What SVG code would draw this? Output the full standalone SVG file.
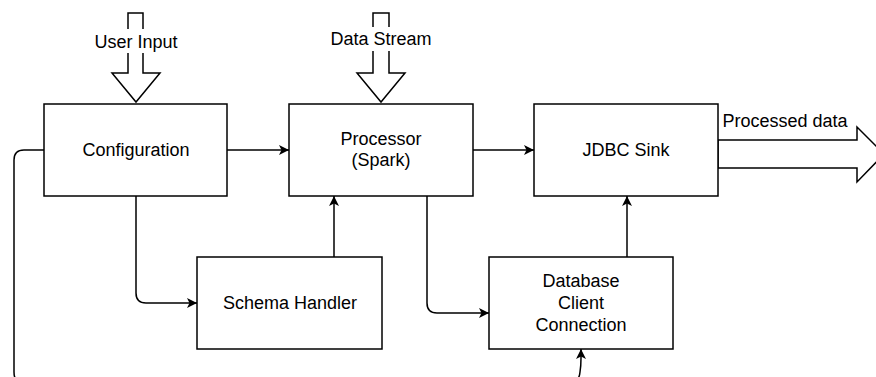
<svg xmlns="http://www.w3.org/2000/svg" width="876" height="377" viewBox="0 0 876 377">
  <style>
    .box { fill: #ffffff; stroke: #000000; stroke-width: 1.5; }
    .lbl { font-family: "Liberation Sans", Arial, Helvetica, sans-serif; font-size: 18px; fill: #000000; text-anchor: middle; }
    .wire { fill: none; stroke: #000000; stroke-width: 1.5; }
    .block { fill: #ffffff; stroke: #000000; stroke-width: 1.5; stroke-linejoin: miter; }
  </style>
  <defs>
    <marker id="arr" viewBox="0 0 10 10" refX="10" refY="5" markerWidth="11" markerHeight="10" markerUnits="userSpaceOnUse" orient="auto">
      <path d="M0,0 L10,5 L0,10 L2.5,5 Z" fill="#000000"/>
    </marker>
  </defs>
  <rect width="876" height="377" fill="#ffffff"/>

  <!-- inputs and output as block arrows -->
  <g id="user-input">
    <polygon class="block" points="128,13 143,13 143,73 160,73 136,102 112,73 128,73"/>
    <rect x="91" y="29" width="90" height="24" fill="#ffffff"/>
    <text class="lbl" x="136" y="48">User Input</text>
  </g>
  <g id="data-stream">
    <polygon class="block" points="373,13 389,13 389,73 405,73 381,102 357,73 373,73"/>
    <rect x="329" y="27" width="104" height="24" fill="#ffffff"/>
    <text class="lbl" x="381" y="45">Data Stream</text>
  </g>
  <g id="processed-data">
    <polygon class="block" points="718,140 857,140 857,127 884,154 857,182 857,168 718,168"/>
    <text class="lbl" x="785" y="127">Processed data</text>
  </g>

  <!-- connectors -->
  <g id="connectors">
    <path class="wire" d="M227,150 L289,150" marker-end="url(#arr)"/>
    <path class="wire" d="M473,150 L534,150" marker-end="url(#arr)"/>
    <path class="wire" d="M136,196 L136,293 Q136,303 146,303 L197,303" marker-end="url(#arr)"/>
    <path class="wire" d="M334,257 L334,196" marker-end="url(#arr)"/>
    <path class="wire" d="M427,196 L427,303 Q427,313 437,313 L489,313" marker-end="url(#arr)"/>
    <path class="wire" d="M627,257 L627,196" marker-end="url(#arr)"/>
    <path class="wire" d="M44,150 L24,150 Q14,150 14,160 L14,372 Q14,384 26,384 L566,384 Q579,384 580,372 Q581,366 581,358 L581,349" marker-end="url(#arr)"/>
  </g>

  <!-- nodes -->
  <g id="configuration">
    <rect class="box" x="44" y="104" width="183" height="92"/>
    <text class="lbl" x="136" y="156">Configuration</text>
  </g>
  <g id="processor">
    <rect class="box" x="289" y="104" width="184" height="92"/>
    <text class="lbl" x="381" y="145">Processor</text>
    <text class="lbl" x="381" y="166">(Spark)</text>
  </g>
  <g id="jdbc-sink">
    <rect class="box" x="534" y="104" width="184" height="92"/>
    <text class="lbl" x="626" y="156">JDBC Sink</text>
  </g>
  <g id="schema-handler">
    <rect class="box" x="197" y="257" width="185" height="92"/>
    <text class="lbl" x="290" y="309">Schema Handler</text>
  </g>
  <g id="db-client">
    <rect class="box" x="489" y="257" width="184" height="92"/>
    <text class="lbl" x="581" y="287">Database</text>
    <text class="lbl" x="581" y="309">Client</text>
    <text class="lbl" x="581" y="331">Connection</text>
  </g>
</svg>
